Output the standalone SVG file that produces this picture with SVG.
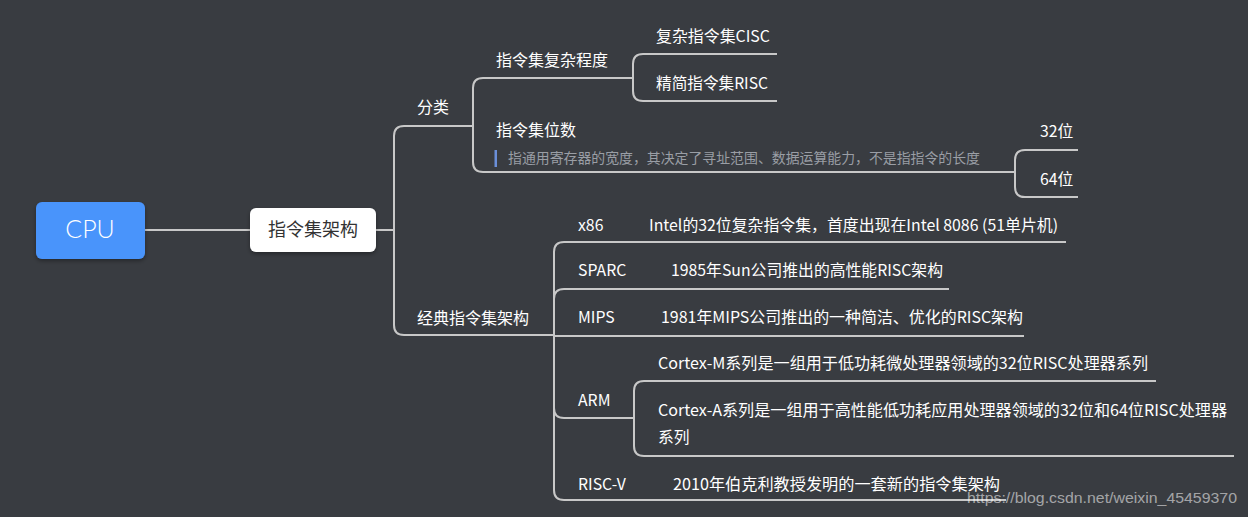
<svg xmlns="http://www.w3.org/2000/svg" width="1248" height="517" viewBox="0 0 1248 517">
<defs>
<style>
.bg{fill:#393c41}
.ln{fill:none;stroke:#c8c8c8;stroke-width:2}
.t{font-family:"Noto Sans CJK SC","Noto Sans",sans-serif;fill:#ffffff;font-size:15.8px}
.t2{font-family:"Noto Sans CJK SC","Noto Sans",sans-serif;fill:#ffffff;font-size:16px}
.desc{font-family:"Noto Sans CJK SC","Noto Sans",sans-serif;fill:#9a9ea5;font-size:13.8px}
.wm{font-family:"Liberation Sans",Arial,sans-serif;fill:#ffffff;fill-opacity:0.55;font-size:15px}
</style>
<filter id="sh" x="-20%" y="-20%" width="140%" height="150%">
<feDropShadow dx="0" dy="2" stdDeviation="2" flood-color="#000" flood-opacity="0.35"/>
</filter>
</defs>
<rect class="bg" x="0" y="0" width="1248" height="517"/>
<g id="connectors">
<path class="ln" d="M145 230 H250"/>
<path class="ln" d="M376 230 H394"/>
<path class="ln" d="M473 126 H404 Q394 126 394 136 V325 Q394 335 404 335 H554"/>
<path class="ln" d="M633 78 H483 Q473 78 473 88 V162 Q473 172 483 172 H1015"/>
<path class="ln" d="M777 54 H643 Q633 54 633 64 V91 Q633 101 643 101 H777"/>
<path class="ln" d="M1078 150 H1025 Q1015 150 1015 160 V187 Q1015 197 1025 197 H1078"/>
<path class="ln" d="M1066 242 H564 Q554 242 554 252 V490 Q554 500 564 500 H1006"/>
<path class="ln" d="M554 299 Q554 289 564 289 H949"/>
<path class="ln" d="M554 336 H1024"/>
<path class="ln" d="M554 408 Q554 418 564 418 H634"/>
<path class="ln" d="M1156 381 H644 Q634 381 634 391 V446 Q634 456 644 456 H1234"/>
</g>
<g id="cpu">
<rect x="36" y="202" width="109" height="57" rx="6" fill="#4a94fb" filter="url(#sh)"/>
<text x="90" y="238" text-anchor="middle" font-family="Lato,'Open Sans',sans-serif" font-weight="300" font-size="25" fill="#ffffff">CPU</text>
</g>
<g id="isa">
<rect x="250" y="208" width="126" height="44" rx="6" fill="#ffffff" filter="url(#sh)"/>
<text x="313" y="236" text-anchor="middle" font-family="'Noto Sans CJK SC',sans-serif" font-size="18" fill="#333333">指令集架构</text>
</g>
<g id="fenlei"><text class="t2" x="417" y="113">分类</text></g>
<g id="fuza"><text class="t2" x="496" y="66">指令集复杂程度</text></g>
<g id="cisc"><text class="t" x="656" y="42" textLength="114" lengthAdjust="spacingAndGlyphs">复杂指令集CISC</text></g>
<g id="risc"><text class="t" x="656" y="89" textLength="112" lengthAdjust="spacingAndGlyphs">精简指令集RISC</text></g>
<g id="weishu">
<text class="t2" x="496" y="136">指令集位数</text>
<rect x="494.5" y="150" width="2.5" height="17" fill="#6b8fd9"/>
<text class="desc" x="508" y="163" textLength="472" lengthAdjust="spacingAndGlyphs">指通用寄存器的宽度，其决定了寻址范围、数据运算能力，不是指指令的长度</text>
</g>
<g id="b32"><text class="t" x="1040" y="137">32位</text></g>
<g id="b64"><text class="t" x="1040" y="185">64位</text></g>
<g id="jingdian"><text class="t2" x="417" y="324">经典指令集架构</text></g>
<g id="x86"><text class="t" x="578" y="231">x86</text></g>
<g id="x86d"><text class="t" x="649" y="231" textLength="409" lengthAdjust="spacingAndGlyphs">Intel的32位复杂指令集，首度出现在Intel 8086 (51单片机)</text></g>
<g id="sparc"><text class="t" x="578" y="276">SPARC</text></g>
<g id="sparcd"><text class="t" x="671" y="276" textLength="272" lengthAdjust="spacingAndGlyphs">1985年Sun公司推出的高性能RISC架构</text></g>
<g id="mips"><text class="t" x="578" y="323">MIPS</text></g>
<g id="mipsd"><text class="t" x="661" y="323" textLength="362" lengthAdjust="spacingAndGlyphs">1981年MIPS公司推出的一种简洁、优化的RISC架构</text></g>
<g id="arm"><text class="t" x="578" y="406">ARM</text></g>
<g id="cm"><text class="t" x="658" y="369" textLength="490" lengthAdjust="spacingAndGlyphs">Cortex-M系列是一组用于低功耗微处理器领域的32位RISC处理器系列</text></g>
<g id="ca"><text class="t" x="658" y="416" textLength="569" lengthAdjust="spacingAndGlyphs">Cortex-A系列是一组用于高性能低功耗应用处理器领域的32位和64位RISC处理器</text><text class="t" x="658" y="443">系列</text></g>
<g id="riscv"><text class="t" x="578" y="490">RISC-V</text></g>
<g id="riscvd"><text class="t" x="673" y="490" textLength="327" lengthAdjust="spacingAndGlyphs">2010年伯克利教授发明的一套新的指令集架构</text></g>
<text class="wm" x="967" y="503" textLength="270" lengthAdjust="spacingAndGlyphs">https://blog.csdn.net/weixin_45459370</text>
</svg>
